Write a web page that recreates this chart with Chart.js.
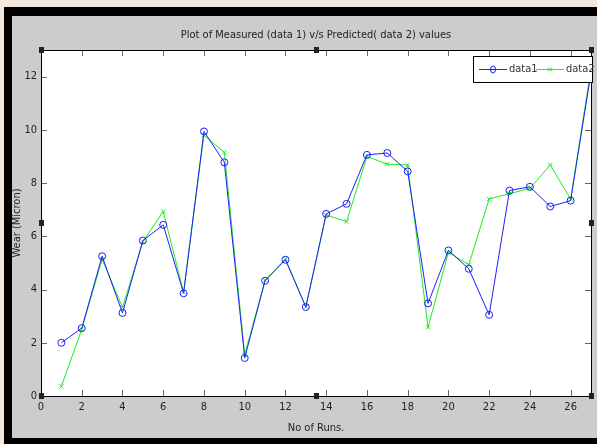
<!DOCTYPE html>
<html>
<head>
<meta charset="utf-8">
<script src="https://cdn.jsdelivr.net/npm/chart.js@4/dist/chart.umd.min.js"></script>
<style>
  html, body { margin: 0; padding: 0; background: #cccccc; overflow: hidden; }
  #chart { display: block; }
</style>
</head>
<body>
<canvas id="chart" width="597" height="444"></canvas>
<script>
// runs 1..27
const runs = [1, 2, 3, 4, 5, 6, 7, 8, 9, 10, 11, 12, 13, 14, 15, 16, 17, 18, 19, 20, 21, 22, 23, 24, 25, 26, 27];
// measured wear (data1)
const measured = [2.0, 2.55, 5.25, 3.12, 5.84, 6.43, 3.86, 9.94, 8.78, 1.43, 4.33, 5.12, 3.34, 6.84, 7.22, 9.06, 9.13, 8.44, 3.48, 5.47, 4.78, 3.05, 7.72, 7.86, 7.12, 7.34, 12.15];
// predicted wear (data2)
const predicted = [0.36, 2.5, 5.14, 3.33, 5.8, 6.93, 3.9, 9.8, 9.15, 1.55, 4.35, 5.15, 3.35, 6.8, 6.55, 9.0, 8.71, 8.68, 2.58, 5.4, 4.93, 7.4, 7.6, 7.8, 8.68, 7.4, 12.3];
const seriesNames = ['data1', 'data2'];
const chartTitle = 'Plot of Measured (data 1) v/s Predicted( data 2) values';

const FONT = "'Liberation Sans Narrow', 'DejaVu Sans Condensed', 'Liberation Sans', Arial, sans-serif";
const BLUE = 'rgb(30,30,255)';
const GREEN = 'rgb(30,235,30)';

// figure background, white plot box, black border, inward ticks, handles, legend box
const matlabAxes = {
	id: 'matlabAxes',
	beforeDraw(chart) {
		const {ctx, width, height} = chart;
		ctx.save();
		ctx.fillStyle = '#f4e7de';
		ctx.fillRect(0, 0, width, height);
		ctx.fillStyle = '#000';
		ctx.fillRect(4, 7, width - 4, height - 7);
		ctx.fillStyle = '#cccccc';
		ctx.fillRect(12, 16, width - 12, 422);
		ctx.restore();
	},
	beforeDatasetsDraw(chart) {
		const {ctx, chartArea: a} = chart;
		ctx.save();
		ctx.fillStyle = '#fff';
		ctx.fillRect(a.left, a.top, a.right - a.left, a.bottom - a.top);
		ctx.restore();
	},
	afterDraw(chart) {
		const {ctx, chartArea: a, scales, width} = chart;
		ctx.save();
		// strip right of the axes
		ctx.fillStyle = '#cccccc';
		ctx.fillRect(Math.ceil(a.right) + 1, 16, width - Math.ceil(a.right) - 1, 422);

		// title centred over the axes
		ctx.font = '11px ' + FONT;
		ctx.fillStyle = '#222';
		ctx.textAlign = 'center';
		ctx.textBaseline = 'middle';
		ctx.fillText(chartTitle, (a.left + a.right) / 2, 35);
		ctx.textAlign = 'left';

		// inward ticks
		ctx.strokeStyle = '#666';
		ctx.lineWidth = 1;
		ctx.beginPath();
		scales.x.ticks.forEach(t => {
			const px = Math.round(scales.x.getPixelForValue(t.value)) + 0.5;
			ctx.moveTo(px, a.bottom); ctx.lineTo(px, a.bottom - 6);
			ctx.moveTo(px, a.top); ctx.lineTo(px, a.top + 6);
		});
		scales.y.ticks.forEach(t => {
			const py = Math.round(scales.y.getPixelForValue(t.value)) + 0.5;
			ctx.moveTo(a.left, py); ctx.lineTo(a.left + 6, py);
			ctx.moveTo(a.right, py); ctx.lineTo(a.right - 6, py);
		});
		ctx.stroke();
		// box
		ctx.strokeStyle = '#000';
		ctx.strokeRect(Math.round(a.left) + 0.5, Math.round(a.top) + 0.5, Math.round(a.right - a.left), Math.round(a.bottom - a.top));

		// legend
		const lx = 473, ly = 56, lw = 119, lh = 26;
		ctx.fillStyle = '#fff';
		ctx.fillRect(lx, ly, lw, lh);
		ctx.strokeStyle = '#000';
		ctx.strokeRect(lx + 0.5, ly + 0.5, lw, lh);
		ctx.fillStyle = '#333';
		const my = ly + lh / 2 + 0.5;
		// data1
		ctx.strokeStyle = BLUE;
		ctx.beginPath(); ctx.moveTo(479, my); ctx.lineTo(507, my); ctx.stroke();
		ctx.beginPath(); ctx.ellipse(493, my, 2.5, 3.5, 0, 0, Math.PI * 2); ctx.stroke();
		ctx.fillText(seriesNames[0], 509, my);
		// data2
		ctx.strokeStyle = GREEN;
		ctx.beginPath(); ctx.moveTo(536, my); ctx.lineTo(564, my); ctx.stroke();
		ctx.beginPath();
		ctx.moveTo(548, my - 2); ctx.lineTo(552, my + 2);
		ctx.moveTo(552, my - 2); ctx.lineTo(548, my + 2);
		ctx.stroke();
		ctx.fillText(seriesNames[1], 566, my);

		// selection handles
		ctx.fillStyle = '#222';
		const mx = (a.left + a.right) / 2, myy = (a.top + a.bottom) / 2;
		[[a.left, a.top], [mx, a.top], [a.right, a.top],
		 [a.left, myy], [a.right, myy],
		 [a.left, a.bottom], [mx, a.bottom], [a.right, a.bottom]].forEach(([hx, hy]) => {
			ctx.fillRect(Math.round(hx) - 2, Math.round(hy) - 3, 5, 6);
		});
		ctx.restore();
	}
};

new Chart(document.getElementById('chart'), {
	type: 'line',
	data: {
		datasets: [
			{
				label: seriesNames[0],
				data: runs.map((r, i) => ({x: r, y: measured[i]})),
				borderColor: BLUE,
				backgroundColor: 'transparent',
				borderWidth: 1,
				pointStyle: 'circle',
				pointRadius: 3.5,
				pointBorderWidth: 1,
				pointBorderColor: BLUE,
				tension: 0
			},
			{
				label: seriesNames[1],
				data: runs.map((r, i) => ({x: r, y: predicted[i]})),
				borderColor: GREEN,
				backgroundColor: 'transparent',
				borderWidth: 1,
				pointStyle: 'crossRot',
				pointRadius: 3,
				pointBorderWidth: 1,
				pointBorderColor: GREEN,
				tension: 0
			}
		]
	},
	options: {
		responsive: false,
		animation: false,
		devicePixelRatio: 1,
		layout: {padding: {left: 0, right: 6, top: 50, bottom: 0}},
		plugins: {
			legend: {display: false},
			tooltip: {enabled: false},
			title: {display: false}
		},
		scales: {
			x: {
				type: 'linear',
				min: 0,
				max: 27,
				grid: {display: false, drawTicks: false},
				border: {display: false},
				ticks: {stepSize: 2, includeBounds: false, color: '#222', padding: 5, maxRotation: 0,
					font: {family: FONT, size: 11}},
				title: {display: true, text: 'No of Runs.', color: '#222',
					font: {family: FONT, size: 11}, padding: {top: 0, bottom: 9}},
				afterFit(scale) { scale.height = 48; }
			},
			y: {
				type: 'linear',
				min: 0,
				max: 13,
				grid: {display: false, drawTicks: false},
				border: {display: false},
				ticks: {stepSize: 2, includeBounds: false, color: '#222', padding: 4,
					font: {family: FONT, size: 11}},
				title: {display: true, text: 'Wear (Micron)', color: '#222',
					font: {family: FONT, size: 11}, padding: {top: 11, bottom: 0}},
				afterFit(scale) { scale.width = 41; }
			}
		}
	},
	plugins: [matlabAxes]
});
</script>
</body>
</html>
